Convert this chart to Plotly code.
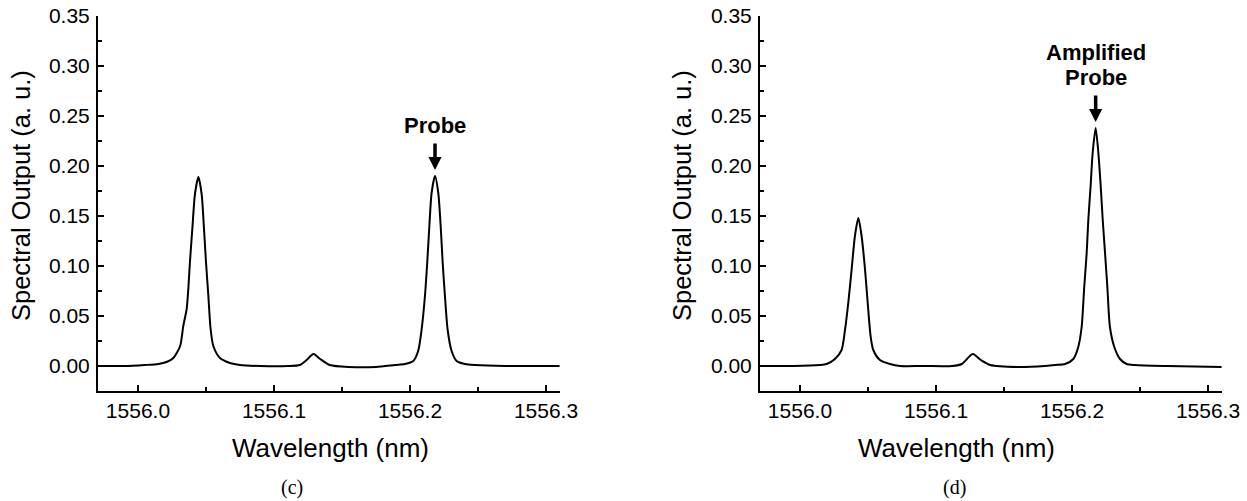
import plotly.graph_objects as go
from plotly.subplots import make_subplots

# ---- data ----
wl_c = [1555.972, 1555.990, 1556.005, 1556.015, 1556.021, 1556.026, 1556.031, 1556.0333,
        1556.0358, 1556.037, 1556.0382, 1556.040, 1556.0419, 1556.0444, 1556.0468, 1556.0485,
        1556.050, 1556.0517, 1556.0534, 1556.0554, 1556.0603, 1556.0676, 1556.075, 1556.090,
        1556.110, 1556.119, 1556.124, 1556.129, 1556.134, 1556.141, 1556.155, 1556.175,
        1556.189, 1556.1963, 1556.2024, 1556.206, 1556.2085, 1556.211, 1556.2127, 1556.2142,
        1556.2159, 1556.2184, 1556.2208, 1556.2226, 1556.224, 1556.2257, 1556.2277, 1556.2306,
        1556.2343, 1556.2404, 1556.2478, 1556.270, 1556.310]
out_c = [0.000, 0.000, 0.001, 0.002, 0.004, 0.008, 0.020, 0.040,
         0.057, 0.077, 0.104, 0.138, 0.172, 0.189, 0.172, 0.138,
         0.104, 0.071, 0.037, 0.020, 0.008, 0.003, 0.001, 0.000,
         0.000, 0.001, 0.006, 0.012, 0.007, 0.001, -0.001, -0.001,
         0.001, 0.002, 0.005, 0.015, 0.036, 0.070, 0.104, 0.139,
         0.173, 0.190, 0.173, 0.139, 0.104, 0.070, 0.036, 0.015,
         0.005, 0.002, 0.001, 0.000, 0.000]

wl_d = [1555.972, 1555.995, 1556.0147, 1556.0196, 1556.0257, 1556.0306, 1556.0331, 1556.0355,
        1556.038, 1556.0404, 1556.0429, 1556.0453, 1556.0478, 1556.0498, 1556.052, 1556.0539,
        1556.0588, 1556.0662, 1556.0735, 1556.090, 1556.112, 1556.119, 1556.127, 1556.133,
        1556.140, 1556.160, 1556.180, 1556.1875, 1556.1949, 1556.201, 1556.2046, 1556.2071,
        1556.209, 1556.2108, 1556.212, 1556.2137, 1556.2152, 1556.2174, 1556.2194, 1556.2211,
        1556.2226, 1556.2243, 1556.226, 1556.2279, 1556.2311, 1556.2353, 1556.2402, 1556.2463,
        1556.270, 1556.310]
out_d = [0.000, 0.000, 0.001, 0.002, 0.007, 0.016, 0.036, 0.063,
         0.097, 0.130, 0.148, 0.130, 0.097, 0.063, 0.029, 0.016,
         0.006, 0.002, 0.000, 0.000, 0.000, 0.002, 0.012, 0.006,
         0.001, -0.001, 0.000, 0.001, 0.002, 0.007, 0.019, 0.039,
         0.079, 0.113, 0.146, 0.180, 0.213, 0.238, 0.213, 0.180,
         0.146, 0.113, 0.079, 0.039, 0.019, 0.007, 0.002, 0.001,
         0.000, -0.001]

x_ticks = [1556.0, 1556.1, 1556.2, 1556.3]
y_ticks = [0.00, 0.05, 0.10, 0.15, 0.20, 0.25, 0.30, 0.35]
x_title = "Wavelength (nm)"
y_title = "Spectral Output (a. u.)"
panel_labels = ["(c)", "(d)"]
probe_wl = [1556.2184, 1556.2174]
probe_tip = [0.196, 0.244]
probe_lines = [["Probe"], ["Amplified", "Probe"]]

W, H = 1247, 501
SANS = "Liberation Sans, Arial, sans-serif"
SERIF = "Liberation Serif, Times New Roman, serif"


def px(sx):
    return sx / W


def py(sy):
    return 1 - sy / H


fig = make_subplots(rows=1, cols=2)
for i, (wx, wy) in enumerate([(wl_c, out_c), (wl_d, out_d)]):
    fig.add_trace(go.Scatter(x=wx, y=wy, mode="lines",
                             line=dict(color="black", width=2, shape="spline", smoothing=0.7),
                             showlegend=False, hoverinfo="skip"), row=1, col=i + 1)

xdoms = [[px(98), px(560)], [px(760), px(1222)]]
ydom = [py(391), py(16)]
axis_common = dict(showgrid=False, zeroline=False, showline=True, linecolor="black", linewidth=2,
                   ticks="inside", ticklen=6, tickwidth=1.5, tickcolor="black", automargin=False,
                   ticklabeloverflow="allow",
                   tickfont=dict(family=SANS, size=21, color="black"))
for i in range(2):
    sfx = "" if i == 0 else "2"
    fig.layout["xaxis" + sfx].update(
        domain=xdoms[i], range=[1555.9706, 1556.3103], tickvals=x_ticks,
        tickformat=".1f", anchor="y" + sfx,
        minor=dict(dtick=0.05, tick0=1556.0, ticks="inside", ticklen=4, tickcolor="black", tickwidth=1.5),
        ticklabelstandoff=0, **axis_common)
    fig.layout["yaxis" + sfx].update(
        domain=ydom, range=[-0.025, 0.35], tickvals=y_ticks, tickformat=".2f",
        anchor="x" + sfx,
        minor=dict(dtick=0.025, tick0=0, ticks="inside", ticklen=4, tickcolor="black", tickwidth=1.5),
        ticklabelstandoff=2, **axis_common)

ann = []
for i in range(2):
    sfx = "" if i == 0 else "2"
    ann.append(dict(text=y_title, xref="paper", yref="paper", x=px([21, 682][i]), y=py(196),
                    textangle=-90, showarrow=False, xanchor="center", yanchor="middle",
                    font=dict(family=SANS, size=25.5, color="black")))
    ann.append(dict(text=x_title, xref="paper", yref="paper", x=px([330, 956][i]), y=py(448),
                    showarrow=False, xanchor="center", yanchor="middle",
                    font=dict(family=SANS, size=26, color="black")))
    ann.append(dict(text=panel_labels[i], xref="paper", yref="paper", x=px([292, 954][i]),
                    y=py(487), showarrow=False, xanchor="center", yanchor="middle",
                    font=dict(family=SERIF, size=20, color="black")))
    ann.append(dict(text="", xref="x" + sfx, yref="y" + sfx, x=probe_wl[i], y=probe_tip[i],
                    showarrow=True, ax=0, ay=-28, arrowhead=2, arrowwidth=3.5, arrowsize=0.75,
                    arrowcolor="black", standoff=0))
    lines = probe_lines[i]
    for k, line in enumerate(lines):
        shift = 30 + 25 * (len(lines) - 1 - k)
        ann.append(dict(text="<b>" + line + "</b>", xref="x" + sfx, yref="y" + sfx,
                        x=probe_wl[i], y=probe_tip[i], showarrow=False,
                        xanchor="center", yanchor="bottom", yshift=shift,
                        font=dict(family=SANS, size=22, color="black")))

fig.update_layout(template="none", width=W, height=H, margin=dict(l=0, r=0, t=0, b=0, pad=0),
                  paper_bgcolor="white", plot_bgcolor="white", annotations=ann)
fig.write_html("out.html", config={"displayModeBar": False},
               post_script="document.body.style.margin='0';document.body.style.overflow='hidden';")
